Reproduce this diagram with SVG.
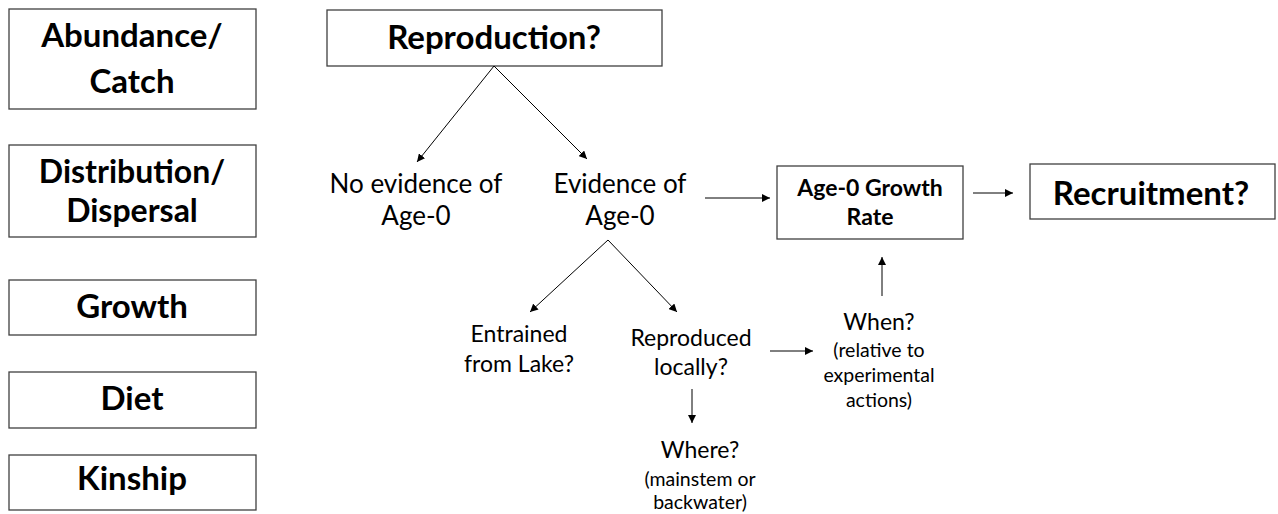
<svg xmlns="http://www.w3.org/2000/svg" width="1278" height="514" viewBox="0 0 1278 514">
<style>
.box{fill:#fff;stroke:#404040;stroke-width:1.3}
.b{font-family:Lato,"Liberation Sans",sans-serif;font-weight:bold;fill:#000;text-anchor:middle}
.r{font-family:Lato,"Liberation Sans",sans-serif;fill:#000;text-anchor:middle}
.big{font-size:33px}
.dist{font-size:32px}
.med{font-size:26px}
.sm{font-size:23px}
.xs{font-size:19.5px}
.bm{font-size:23px}
.ln{stroke:#000;stroke-width:1;fill:none;marker-end:url(#ah)}
</style>
<defs>
<marker id="ah" viewBox="0 0 10 10" refX="10" refY="5" markerWidth="8" markerHeight="8" markerUnits="userSpaceOnUse" orient="auto">
<path d="M0,0 L10,5 L0,10 z" fill="#000"/>
</marker>
</defs>
<rect width="1278" height="514" fill="#fff"/>
<g id="abundance"><rect class="box" x="9" y="9" width="247" height="100"/><text class="b big" x="132" y="47">Abundance/<tspan x="132" y="93">Catch</tspan></text></g>
<g id="distribution"><rect class="box" x="9" y="145" width="247" height="92"/><text class="b dist" x="132" y="183">Distribution/<tspan x="132" y="222">Dispersal</tspan></text></g>
<g id="growth"><rect class="box" x="9" y="280" width="247" height="55"/><text class="b big" x="132" y="318">Growth</text></g>
<g id="diet"><rect class="box" x="9" y="372" width="247" height="56"/><text class="b big" x="132" y="410">Diet</text></g>
<g id="kinship"><rect class="box" x="9" y="455" width="247" height="55"/><text class="b big" x="132" y="490">Kinship</text></g>
<g id="reproduction"><rect class="box" x="327" y="10" width="335" height="56"/><text class="b big" x="494" y="49">Reproduction?</text></g>
<g id="no-evidence"><text class="r med" x="416" y="193">No evidence of<tspan x="416" y="225">Age-0</tspan></text></g>
<g id="evidence"><text class="r med" x="620" y="193">Evidence of<tspan x="620" y="225">Age-0</tspan></text></g>
<g id="growth-rate"><rect class="box" x="777" y="166" width="186" height="73"/><text class="b bm" x="870" y="196">Age-0 Growth<tspan x="870" y="225">Rate</tspan></text></g>
<g id="recruitment"><rect class="box" x="1030" y="164" width="245" height="55"/><text class="b big" x="1151" y="205">Recruitment?</text></g>
<g id="entrained"><text class="r sm" x="519" y="342">Entrained<tspan x="519" y="372">from Lake?</tspan></text></g>
<g id="reproduced"><text class="r sm" x="691" y="346">Reproduced<tspan x="691" y="375">locally?</tspan></text></g>
<g id="when"><text class="r sm" x="879" y="330">When?</text><text class="r xs" x="879" y="357">(relative to<tspan x="879" y="382">experimental</tspan><tspan x="879" y="407">actions)</tspan></text></g>
<g id="where"><text class="r sm" x="700" y="458">Where?</text><text class="r xs" x="700" y="486">(mainstem or<tspan x="700" y="509">backwater)</tspan></text></g>
<g id="connectors">
<line class="ln" x1="494" y1="66" x2="417" y2="162"/>
<line class="ln" x1="494" y1="66" x2="587" y2="159"/>
<line class="ln" x1="705" y1="198" x2="770" y2="198"/>
<line class="ln" x1="973" y1="193" x2="1013" y2="193"/>
<line class="ln" x1="608" y1="240" x2="530" y2="312"/>
<line class="ln" x1="608" y1="240" x2="677" y2="312"/>
<line class="ln" x1="770" y1="351" x2="813" y2="351"/>
<line class="ln" x1="882" y1="296" x2="882" y2="257"/>
<line class="ln" x1="692" y1="389" x2="692" y2="423"/>
</g>
</svg>
